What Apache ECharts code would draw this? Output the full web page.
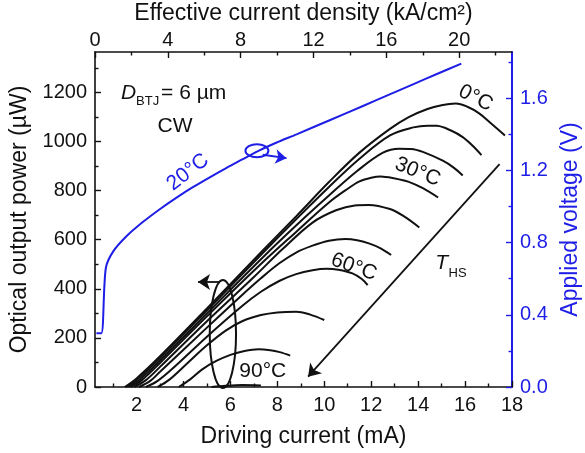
<!DOCTYPE html>
<html>
<head>
<meta charset="utf-8">
<script src="https://cdn.jsdelivr.net/npm/echarts@6/dist/echarts.min.js"></script>
<style>
html, body { margin: 0; padding: 0; background: #fff; }
#chart { width: 585px; height: 453px; }
</style>
</head>
<body>
<div id="chart"></div>
<script>
// heat-sink temperatures of the L-I curves (deg C)
var temps = [0, 10, 20, 30, 40, 50, 60, 70, 80, 90];

// optical output power (uW) vs driving current (mA)
var lp0 = [[1.5,0],[2.0,35],[3,125],[5,320],[7.4,558],[8.8,695],[10.2,835],[11.5,955],[12.8,1052],[13.6,1100],[14.4,1133],[15.0,1148],[15.6,1155],[16.1,1142],[16.6,1115],[17.1,1075],[17.7,1025]];
var lp10 = [[1.55,0],[2.05,33],[3,118],[5,312],[7.4,548],[8.8,683],[10.2,815],[11.5,930],[12.8,1025],[13.8,1058],[14.4,1065],[14.8,1064],[15.4,1045],[15.9,1018],[16.3,985],[16.7,945]];
var lp20 = [[1.65,0],[2.15,32],[3,108],[5,300],[7.4,530],[8.8,658],[10.2,780],[11.4,880],[12.5,955],[13.2,971],[13.7,970],[14.2,958],[15.05,922],[15.5,895],[15.9,862]];
var lp30 = [[1.75,0],[2.25,30],[3,98],[5,288],[7.4,510],[8.8,632],[10.2,752],[11.0,808],[11.5,838],[12.0,853],[12.4,858],[13.0,850],[13.6,836],[14.2,810],[14.85,772]];
var lp40 = [[1.9,0],[2.4,28],[3,82],[5,268],[7,448],[8.2,560],[9.5,670],[10.5,720],[11.3,740],[11.9,742],[12.8,725],[13.4,695],[14.05,650]];
var lp50 = [[2.1,0],[2.6,26],[3,62],[5,242],[6.5,375],[7.3,443],[8.1,505],[8.8,548],[9.5,576],[10.2,596],[10.9,603],[11.4,598],[11.9,585],[12.4,565],[12.85,538]];
var lp60 = [[2.4,0],[2.9,25],[3.5,72],[5,205],[6.5,330],[7.3,388],[8.1,433],[8.8,460],[9.5,476],[10.1,482],[10.6,478],[11.2,463],[11.6,440],[11.85,415]];
var lp70 = [[2.9,0],[3.4,30],[4.2,100],[5.0,170],[5.8,230],[6.5,268],[7.3,293],[8.0,304],[8.8,307],[9.4,295],[10.0,273]];
var lp80 = [[3.8,0],[4.3,32],[4.8,72],[5.4,106],[6.0,131],[6.6,147],[7.2,154],[7.7,150],[8.1,142],[8.55,128]];
var lp90 = [[5.2,0],[5.8,5],[6.5,8],[7.3,6]];
var lpCurves = [lp0, lp10, lp20, lp30, lp40, lp50, lp60, lp70, lp80, lp90];

// applied voltage (V) vs driving current (mA) at 20 deg C
var voltage20 = [[0.29,0.298],[0.5,0.298],[0.69,0.658],[1.0,0.75],[1.57,0.835],[2.28,0.915],[2.99,0.985],[3.69,1.048],[4.4,1.107],[5.12,1.162],[5.82,1.213],[6.53,1.262],[7.24,1.311],[7.95,1.353],[8.82,1.40],[10.23,1.478],[11.65,1.557],[12.79,1.621],[13.78,1.677],[14.8,1.734],[15.84,1.792]];

// axis ticks
var currentTicks = [2, 4, 6, 8, 10, 12, 14, 16, 18];
var currentMinor = [1, 3, 5, 7, 9, 11, 13, 15, 17];
var densityTicks = [0, 4, 8, 12, 16, 20];
var densityMinor = [2, 6, 10, 14, 18, 22];
var powerTicks = [0, 200, 400, 600, 800, 1000, 1200];
var powerMinor = [100, 300, 500, 700, 900, 1100, 1300];
var voltageTicks = [0, 0.4, 0.8, 1.2, 1.6];
var voltageMinor = [0.2, 0.6, 1.0, 1.4, 1.8];

var X_MIN = 0.23, X_MAX = 18, J_MAX = 22.9, P_MAX = 1365, V_MAX = 1.856;
var BLACK = '#111', BLUE = '#1e1ee6';
var FONT = '"Liberation Sans", Arial, sans-serif';

function mainAxis(pos, min, max, ticks, color, extra) {
	return echarts.util.merge({
		type: 'value', position: pos, min: min, max: max,
		axisLine: { show: true, onZero: false, lineStyle: { color: color, width: 1.6 } },
		axisTick: { show: true, inside: true, length: 6, customValues: ticks, lineStyle: { color: color, width: 1.4 } },
		axisLabel: { show: true, customValues: ticks, color: color, fontSize: 20, fontFamily: FONT, margin: 8,
			formatter: function (v) { return String(v); } },
		splitLine: { show: false },
		nameTextStyle: { color: color, fontSize: 23, fontFamily: FONT },
		nameLocation: 'middle'
	}, extra || {}, true);
}
function minorAxis(pos, min, max, ticks, color) {
	return {
		type: 'value', position: pos, min: min, max: max,
		axisLine: { show: false, onZero: false },
		axisTick: { show: true, inside: true, length: 3.5, customValues: ticks, lineStyle: { color: color, width: 1.4 } },
		axisLabel: { show: false },
		splitLine: { show: false }
	};
}

var series = lpCurves.map(function (d, i) {
	return {
		name: temps[i] + '°C', type: 'line', data: d, xAxisIndex: 0, yAxisIndex: 0,
		smooth: 0.35, symbol: 'none', lineStyle: { color: BLACK, width: 2 }, z: 3
	};
});
series.push({
	name: 'V 20°C', type: 'line', data: voltage20, xAxisIndex: 0, yAxisIndex: 2,
	smooth: 0.3, symbol: 'none', lineStyle: { color: BLUE, width: 2 }, z: 4,
	markLine: {
		silent: true, animation: false, label: { show: false }, symbol: ['none', 'arrow'], symbolSize: 11,
		lineStyle: { color: BLUE, width: 2, type: 'solid' },
		data: [[{ coord: [7.38, 1.287] }, { coord: [8.39, 1.268] }]]
	}
});
// arrows on the power axis
series.push({
	name: 'arrows', type: 'line', data: [], xAxisIndex: 0, yAxisIndex: 0,
	markLine: {
		silent: true, animation: false, label: { show: false }, symbol: ['none', 'arrow'], symbolSize: 12,
		lineStyle: { color: BLACK, width: 1.8, type: 'solid' },
		data: [
			[{ coord: [5.55, 428] }, { coord: [4.62, 428] }],
			[{ coord: [17.47, 908] }, { coord: [9.31, 42] }]
		]
	}
});

var chart = echarts.init(document.getElementById('chart'), null, { renderer: 'canvas' });
chart.setOption({
	animation: false,
	backgroundColor: '#fff',
	grid: { left: 95, right: 73, top: 52, bottom: 66, containLabel: false, outerBoundsMode: 'none' },
	xAxis: [
		mainAxis('bottom', X_MIN, X_MAX, currentTicks, BLACK, { name: 'Driving current (mA)', nameGap: 38 }),
		minorAxis('bottom', X_MIN, X_MAX, currentMinor, BLACK),
		mainAxis('top', 0, J_MAX, densityTicks, BLACK, { name: 'Effective current density (kA/cm²)', nameGap: 20, axisLabel: { margin: 2 } }),
		minorAxis('top', 0, J_MAX, densityMinor, BLACK)
	],
	yAxis: [
		mainAxis('left', 0, P_MAX, powerTicks, BLACK, { name: 'Optical output power (µW)', nameGap: 57 }),
		minorAxis('left', 0, P_MAX, powerMinor, BLACK),
		mainAxis('right', 0, V_MAX, voltageTicks, BLUE, {
			name: 'Applied voltage (V)', nameGap: 47,
			axisLine: { lineStyle: { width: 2 } },
			axisLabel: { formatter: function (v) { return v.toFixed(1); } }
		}),
		minorAxis('right', 0, V_MAX, voltageMinor, BLUE)
	],
	series: series
});

// annotations, placed through the axes
function pp(x, y) { return chart.convertToPixel({ xAxisIndex: 0, yAxisIndex: 0 }, [x, y]); }
function pv(x, v) { return chart.convertToPixel({ xAxisIndex: 0, yAxisIndex: 2 }, [x, v]); }
function label(text, at, deg, color, size) {
	return {
		type: 'text', x: at[0], y: at[1], rotation: (deg || 0) * Math.PI / 180, z: 10,
		style: { text: text, fill: color || BLACK, fontSize: size || 21, fontFamily: FONT, align: 'center', verticalAlign: 'middle' }
	};
}
function ellipse(c, e, color) {
	return {
		type: 'ellipse', z: 10,
		shape: { cx: c[0], cy: c[1], rx: Math.abs(e[0] - c[0]), ry: Math.abs(e[1] - c[1]) },
		style: { fill: 'none', stroke: color, lineWidth: 2 }
	};
}

var dAt = pp(1.34, 1198);
var tAt = pp(15.0, 505);
var graphics = [
	label('0°C', pp(16.45, 1177), -27),
	label('30°C', pp(13.98, 876), -22),
	label('60°C', pp(11.26, 489), -20),
	label('90°C', pp(7.38, 65), 0),
	label('20°C', pv(4.19, 1.19), 38, BLUE, 21),
	label('CW', pp(3.64, 1063), 0),
	{ type: 'text', x: dAt[0], y: dAt[1], z: 10, style: { text: 'D', fill: BLACK, fontSize: 21, fontStyle: 'italic', fontFamily: FONT, align: 'left', verticalAlign: 'middle' } },
	{ type: 'text', x: dAt[0] + 15, y: dAt[1] + 8, z: 10, style: { text: 'BTJ', fill: BLACK, fontSize: 13, fontFamily: FONT, align: 'left', verticalAlign: 'middle' } },
	{ type: 'text', x: dAt[0] + 40, y: dAt[1], z: 10, style: { text: '= 6 µm', fill: BLACK, fontSize: 21, fontFamily: FONT, align: 'left', verticalAlign: 'middle' } },
	{ type: 'text', x: tAt[0], y: tAt[1], z: 10, style: { text: 'T', fill: BLACK, fontSize: 21, fontStyle: 'italic', fontFamily: FONT, align: 'center', verticalAlign: 'middle' } },
	{ type: 'text', x: tAt[0] + 7, y: tAt[1] + 10, z: 10, style: { text: 'HS', fill: BLACK, fontSize: 13, fontFamily: FONT, align: 'left', verticalAlign: 'middle' } },
	ellipse(pv(7.13, 1.309), pv(7.62, 1.345), BLUE),
	ellipse(pp(5.68, 216), pp(6.24, 436), BLACK)
];
chart.setOption({ graphic: graphics });
</script>
</body>
</html>
